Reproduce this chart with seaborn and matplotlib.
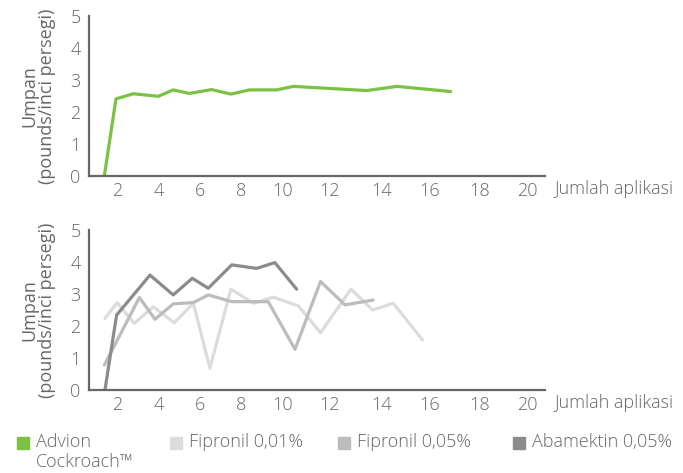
import matplotlib
matplotlib.use("Agg")
import matplotlib.pyplot as plt
import seaborn as sns
import pandas as pd
from matplotlib.patches import Rectangle

# data
advion_x = [1.39, 1.95, 2.79, 3.99, 4.71, 5.49, 6.56, 7.49, 8.38, 9.69, 10.5, 14.03, 15.5, 18.08]
advion_y = [0.0, 2.41, 2.57, 2.49, 2.69, 2.58, 2.70, 2.56, 2.69, 2.69, 2.80, 2.67, 2.80, 2.64]

fip01_x = [1.42, 2.01, 2.83, 3.75, 4.76, 5.68, 6.48, 7.49, 8.57, 9.53, 10.74, 11.81, 13.28, 14.32, 15.32, 16.73]
fip01_y = [2.24, 2.73, 2.08, 2.60, 2.10, 2.71, 0.68, 3.15, 2.71, 2.90, 2.63, 1.79, 3.15, 2.50, 2.71, 1.56]

fip05_x = [1.39, 3.08, 3.83, 4.71, 5.68, 6.40, 7.53, 9.29, 10.58, 11.81, 12.99, 14.35]
fip05_y = [0.78, 2.89, 2.21, 2.69, 2.73, 2.97, 2.76, 2.76, 1.27, 3.39, 2.66, 2.81]

abam_x = [1.42, 1.98, 3.59, 4.71, 5.63, 6.40, 7.53, 8.73, 9.61, 10.66]
abam_y = [0.0, 2.34, 3.59, 2.97, 3.49, 3.18, 3.91, 3.80, 3.98, 3.15]

# tick labels sit a bit unevenly in the original
tick_pos = [2, 4, 6, 8, 10, 12.27, 14.77, 17.08, 19.49, 21.76]
tick_labels = ["2", "4", "6", "8", "10", "12", "14", "16", "18", "20"]
y_ticks = [0, 1, 2, 3, 4, 5]

legend_labels = ["Advion\nCockroach™", "Fipronil 0,01%", "Fipronil 0,05%", "Abamektin 0,05%"]

GREEN = "#7bc143"
LIGHT = "#dcdcdd"
MID = "#bcbcbd"
DARK = "#8b8b8d"
AXIS = "#666666"
FS = 13

sns.set_style("white")
plt.rcParams['font.family'] = ['Open Sans', 'DejaVu Sans']
plt.rcParams['font.weight'] = 'light'

fig = plt.figure(figsize=(6.83, 4.73), dpi=100)
ax1 = fig.add_axes([0.1303, 0.6279, 0.6676, 0.3383])
ax2 = fig.add_axes([0.1303, 0.1755, 0.6676, 0.3383])

sns.lineplot(x=advion_x, y=advion_y, ax=ax1, color=GREEN, lw=2.3, sort=False, estimator=None)

sns.lineplot(x=fip01_x, y=fip01_y, ax=ax2, color=LIGHT, lw=2.3, sort=False, estimator=None)
sns.lineplot(x=fip05_x, y=fip05_y, ax=ax2, color=MID, lw=2.3, sort=False, estimator=None)
sns.lineplot(x=abam_x, y=abam_y, ax=ax2, color=DARK, lw=2.3, sort=False, estimator=None)

for ax in (ax1, ax2):
    ax.set_xlim(0.65, 22.63)
    ax.set_ylim(0, 5)
    ax.set_xticks(tick_pos)
    ax.set_xticklabels(tick_labels)
    ax.set_yticks(y_ticks)
    ax.tick_params(axis='x', length=0, pad=4, labelsize=FS, labelcolor=AXIS)
    ax.tick_params(axis='y', direction='in', length=6, width=1.5, color=AXIS,
                   pad=6, labelsize=FS, labelcolor=AXIS)
    sns.despine(ax=ax)
    for s in ("left", "bottom"):
        ax.spines[s].set_color(AXIS)
        ax.spines[s].set_linewidth(1.6)
    ax.set_ylabel("Umpan\n(pounds/inci persegi)", fontsize=FS, color=AXIS,
                  linespacing=1.0)
    ax.yaxis.set_label_coords(-0.072, 0.5)
    ax.set_xlabel("")
    ax.text(1.022, -0.025, "Jumlah aplikasi", transform=ax.transAxes,
            fontsize=FS, color=AXIS, ha='left', va='top')

# legend drawn by hand to keep the original spacing
leg_colors = [GREEN, LIGHT, MID, DARK]
leg_x = [17, 170, 338, 513]
for c, lx, lab in zip(leg_colors, leg_x, legend_labels):
    fig.patches.append(Rectangle((lx / 683, 1 - 449 / 473), 12 / 683, 12 / 473,
                                 transform=fig.transFigure, color=c))
    fig.text((lx + 19) / 683, 1 - 433 / 473, lab, fontsize=FS, color=AXIS,
             ha='left', va='top', linespacing=1.15)

plt.savefig("out.png", dpi=100)
plt.close()
